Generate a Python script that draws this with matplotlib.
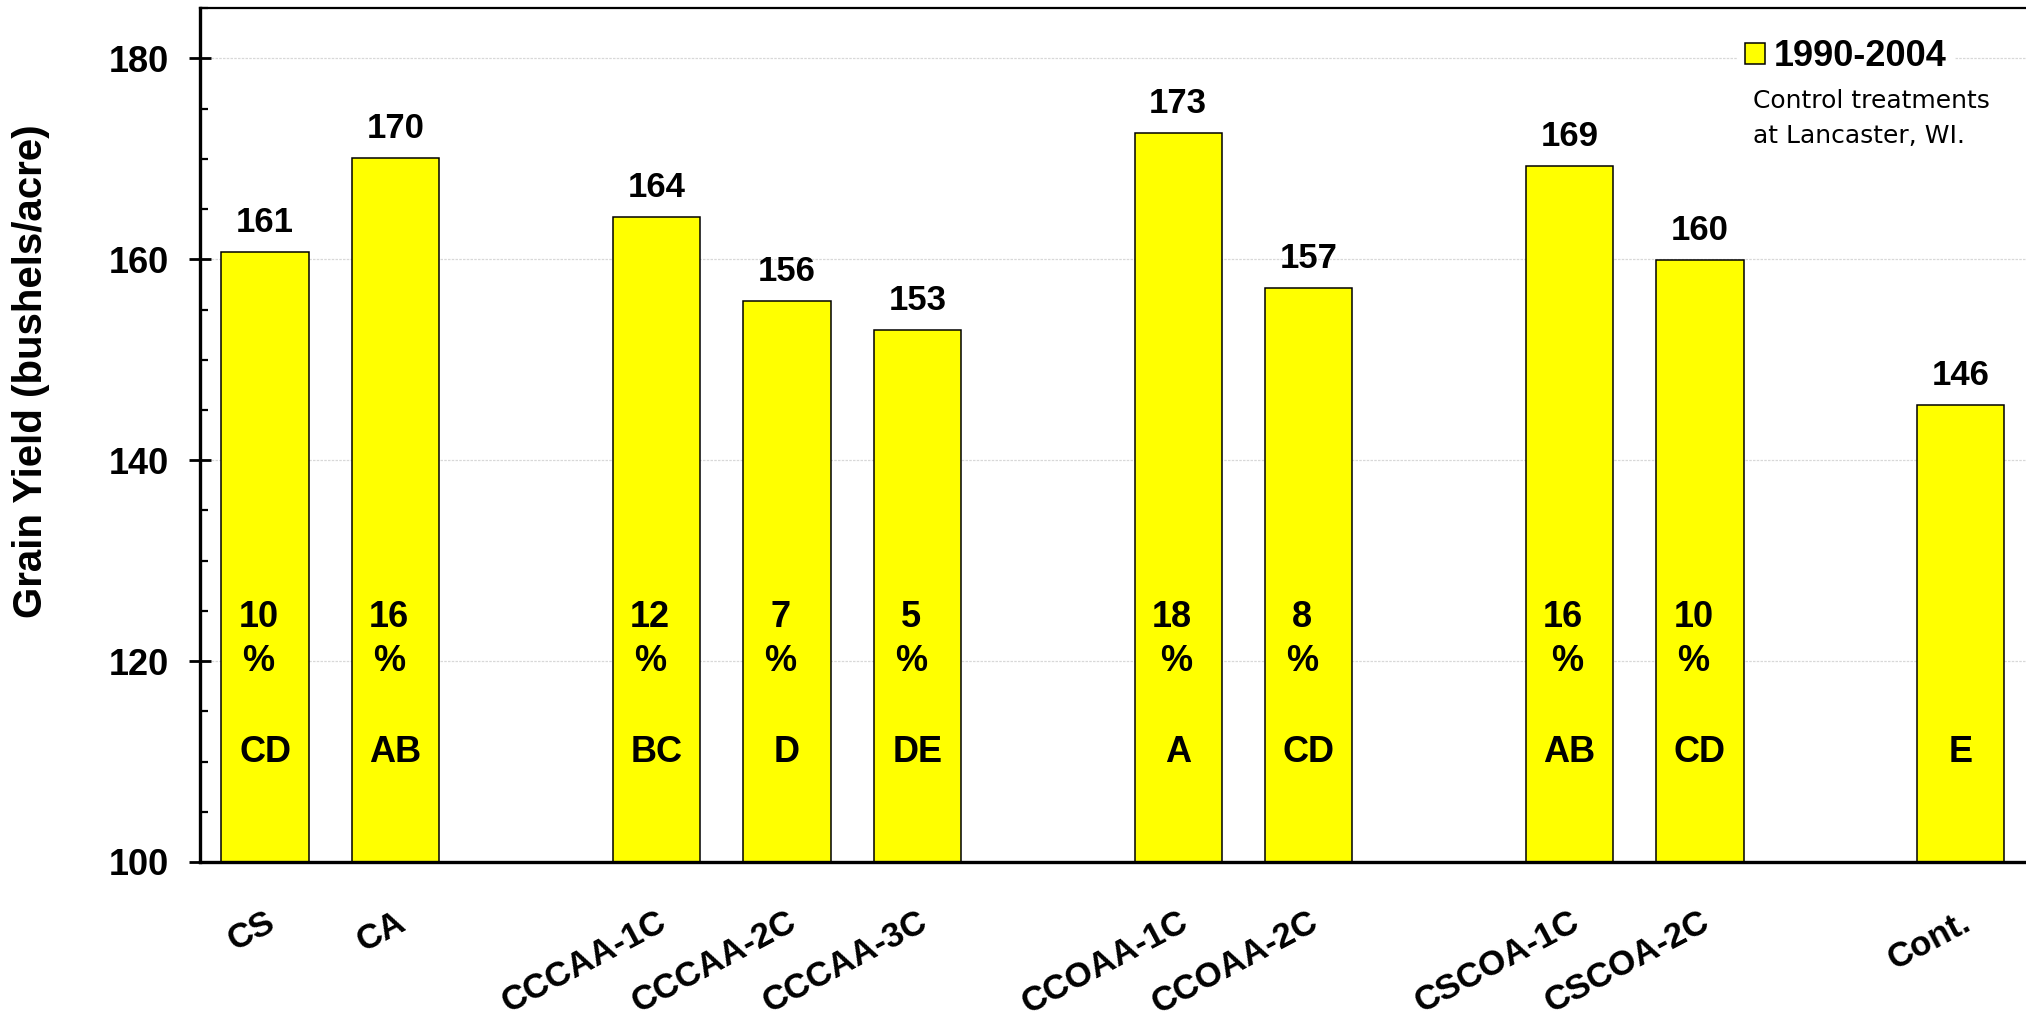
import matplotlib
matplotlib.use("Agg")
import matplotlib.pyplot as plt
from matplotlib.ticker import MultipleLocator

# data
treatments = ["CS", "CA", "CCCAA-1C", "CCCAA-2C", "CCCAA-3C",
              "CCOAA-1C", "CCOAA-2C", "CSCOA-1C", "CSCOA-2C", "Cont."]
slots = [0, 1, 3, 4, 5, 7, 8, 10, 11, 13]
yields = [160.7, 170.1, 164.2, 155.8, 153.0, 172.6, 157.1, 169.3, 159.9, 145.5]
value_labels = ["161", "170", "164", "156", "153", "173", "157", "169", "160", "146"]
pct_labels = ["10\n%", "16\n%", "12\n%", "7\n%", "5\n%", "18\n %", "8\n%", "16\n %", "10\n%", ""]
letters = ["CD", "AB", "BC", "D", "DE", "A", "CD", "AB", "CD", "E"]

plt.rcParams['font.family'] = ['Liberation Sans', 'DejaVu Sans']

fig = plt.figure(figsize=(20.26, 10.23), dpi=100)
ax = fig.add_axes([0.0987, 0.1574, 0.9013, 0.8346])

ax.bar(slots, yields, width=0.67, bottom=0, color="#ffff00",
       edgecolor="black", linewidth=1.1, zorder=2, label="1990-2004")

ax.set_xlim(-0.5, 13.5)
ax.set_ylim(100, 185)

# grid
for g in [120, 140, 160, 180]:
    ax.axhline(g, color="#d8d8d8", lw=0.9, ls=(0, (2, 1)), zorder=0)

# labels
for x, v, vl, pl, lt in zip(slots, yields, value_labels, pct_labels, letters):
    ax.text(x, v + 2.0, vl, ha="center", va="baseline", fontsize=25, fontweight="bold")
    if pl:
        lines = pl.split("\n")
        ax.text(x - 0.05, 123.4, lines[0], ha="center", va="baseline", fontsize=26, fontweight="bold")
        ax.text(x - 0.05, 119.0, lines[1], ha="center", va="baseline", fontsize=26, fontweight="bold")
    ax.text(x, 110.0, lt, ha="center", va="baseline", fontsize=26, fontweight="bold")

# axes styling
ax.spines["right"].set_visible(False)
ax.spines["left"].set_linewidth(2.4)
ax.spines["bottom"].set_linewidth(2.4)
ax.spines["top"].set_linewidth(1.6)

ax.yaxis.set_major_locator(MultipleLocator(20))
ax.yaxis.set_minor_locator(MultipleLocator(5))
ax.tick_params(axis="y", which="major", direction="inout", length=16, width=2,
               labelsize=26, pad=14)
ax.tick_params(axis="y", which="minor", direction="in", length=6, width=1.6)
for t in ax.get_yticklabels():
    t.set_fontweight("bold")

ax.set_xticks(slots)
ax.set_xticklabels(treatments, rotation=28, ha="right", va="top",
                   rotation_mode="anchor", fontsize=25, fontweight="bold")
ax.tick_params(axis="x", length=0, pad=31)

ax.set_ylabel("Grain Yield (bushels/acre)", fontsize=29, fontweight="bold")
ax.yaxis.set_label_coords(-0.082, 0.575)

# legend
leg = ax.legend(loc="upper left", bbox_to_anchor=(1738 / 2026, 1 - 32 / 1023),
                bbox_transform=fig.transFigure, frameon=True, fancybox=False,
                handlelength=0.55, handleheight=0.55, handletextpad=0.25,
                borderpad=0.2, borderaxespad=0,
                prop={"family": "Liberation Sans", "weight": "bold", "size": 26})
leg.get_frame().set_edgecolor("white")
leg.get_frame().set_facecolor("white")
leg.get_frame().set_alpha(1)

fig.text(1753 / 2026, 1 - 108 / 1023, "Control treatments", fontsize=18,
         family="DejaVu Sans", va="baseline", ha="left")
fig.text(1753 / 2026, 1 - 143 / 1023, "at Lancaster, WI.", fontsize=18,
         family="DejaVu Sans", va="baseline", ha="left")

fig.savefig("out.png", dpi=100)
